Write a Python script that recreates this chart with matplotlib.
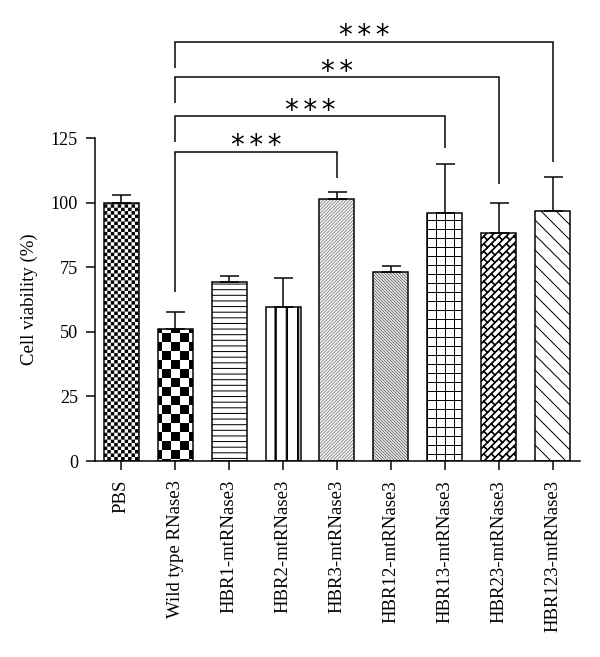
import warnings
warnings.filterwarnings('ignore')
import numpy as np
import matplotlib
matplotlib.use('Agg')
import matplotlib.pyplot as plt
import matplotlib.hatch as mhatch
from matplotlib.path import Path

# ---------------- data ----------------
categories = ['PBS', 'Wild type RNase3', 'HBR1-mtRNase3', 'HBR2-mtRNase3',
              'HBR3-mtRNase3', 'HBR12-mtRNase3', 'HBR13-mtRNase3',
              'HBR23-mtRNase3', 'HBR123-mtRNase3']
viability = [100.0, 51.0, 69.2, 59.8, 101.4, 73.3, 95.9, 88.3, 96.8]
viability_err = [3.0, 6.7, 2.4, 11.0, 2.7, 2.1, 19.0, 11.7, 13.3]
yticks = [0, 25, 50, 75, 100, 125]

# significance brackets
comp_from = [1, 1, 1, 1]
comp_to = [8, 7, 6, 4]
comp_label = ['***', '**', '***', '***']
comp_height = [162.4, 148.6, 133.5, 119.8]
comp_left_end = [152.1, 138.5, 123.7, 65.3]
comp_right_end = [115.9, 107.3, 121.1, 109.7]

# ---------------- styling ----------------
DPI = 90
PX = 1.0 / DPI
HATCH_LW_PT = 0.8
HLW = HATCH_LW_PT * DPI / 72.0 * PX

plt.rcParams['font.family'] = ['Liberation Serif', 'DejaVu Serif']
plt.rcParams['hatch.linewidth'] = HATCH_LW_PT

bar_hatches = ['c', 'C', 'h', 'v', 'n', 's', 'g', 'b', 'd']
hatch_colors = ['black', 'black', 'black', 'black', '#8c8c8c', '#6e6e6e',
                'black', 'black', 'black']


# ---------------- custom hatch patterns ----------------
def _seg(v, c, x0, y0, x1, y1):
    v += [(x0, y0), (x1, y1)]
    c += [Path.MOVETO, Path.LINETO]


def _thickseg(v, c, x0, y0, x1, y1, width_px):
    half = max(width_px * PX - HLW, 0.0) / 2
    dx, dy = x1 - x0, y1 - y0
    L = np.hypot(dx, dy)
    nx, ny = -dy / L * half, dx / L * half
    v += [(x0 + nx, y0 + ny), (x1 + nx, y1 + ny), (x1 - nx, y1 - ny),
          (x0 - nx, y0 - ny), (x0 + nx, y0 + ny)]
    c += [Path.MOVETO, Path.LINETO, Path.LINETO, Path.LINETO, Path.CLOSEPOLY]


def _rect(v, c, x0, y0, x1, y1):
    v += [(x0, y0), (x1, y0), (x1, y1), (x0, y1), (x0, y0)]
    c += [Path.MOVETO, Path.LINETO, Path.LINETO, Path.LINETO, Path.CLOSEPOLY]


def checker(n):
    def build():
        v, c = [], []
        s = 1.0 / n
        e = HLW / 2
        for i in range(n):
            for j in range(n):
                if (i + j) % 2 == 0:
                    _rect(v, c, i * s + e, j * s + e, (i + 1) * s - e, (j + 1) * s - e)
        return v, c
    return build


def hlines(n):
    def build():
        v, c = [], []
        for k in range(n):
            y = (k + 0.5) / n
            _seg(v, c, -0.05, y, 1.05, y)
        return v, c
    return build


def vbars(n, width_px):
    def build():
        v, c = [], []
        half = max(width_px * PX - HLW, 0.0) / 2
        for k in range(n):
            xx = (k + 0.5) / n
            _rect(v, c, xx - half, -0.05, xx + half, 1.05)
        return v, c
    return build


def grid(n):
    def build():
        v, c = [], []
        for k in range(n):
            t = (k + 0.5) / n
            _seg(v, c, -0.05, t, 1.05, t)
            _seg(v, c, t, -0.05, t, 1.05)
        return v, c
    return build


def diag(n, sign):
    def build():
        v, c = [], []
        if sign > 0:
            for k in range(-n - 1, n + 2):
                cc = k / n
                _seg(v, c, -0.1, -0.1 + cc, 1.1, 1.1 + cc)
        else:
            for k in range(-1, 2 * n + 2):
                cc = k / n
                _seg(v, c, -0.1, 0.1 + cc, 1.1, -1.1 + cc)
        return v, c
    return build


def brick(m, n, width_px):
    def build():
        v, c = [], []
        a = 1.0 / m
        b = 1.0 / n
        for k in range(-m - 1, m + 2):
            p = k * a
            _thickseg(v, c, -0.1, -0.1 + p, 1.1, 1.1 + p, width_px)
        for k in range(-m - 1, m + 1):
            pc = (k + 0.5) * a
            for j in range(-2, 2 * n + 3):
                q = j * b + (k % 2) * b / 2
                xm, ym = (q - pc) / 2, (q + pc) / 2
                if -0.15 < xm < 1.15 and -0.15 < ym < 1.15:
                    p0, p1 = k * a, (k + 1) * a
                    _thickseg(v, c, (q - p0) / 2, (q + p0) / 2,
                              (q - p1) / 2, (q + p1) / 2, width_px)
        return v, c
    return build


class CustomHatch(mhatch.HatchPatternBase):
    key = ''
    builder = None

    def __init__(self, hatch, density):
        if self.key and hatch and self.key in hatch:
            v, c = type(self).builder()
            self._v = np.asarray(v, float)
            self._c = np.asarray(c, dtype=Path.code_type)
            self.num_vertices = len(self._v)
        else:
            self.num_vertices = 0

    def set_vertices_and_codes(self, vertices, codes):
        vertices[:] = self._v
        codes[:] = self._c


def register(key, builder):
    cls = type('Hatch_' + key, (CustomHatch,), {'key': key, 'builder': staticmethod(builder)})
    mhatch._hatch_types.append(cls)


register('c', checker(26))
register('C', checker(10))
register('h', hlines(16))
register('v', vbars(8, 2.3))
register('n', diag(27, +1))
register('s', diag(30, -1))
register('g', grid(10))
register('b', brick(12, 6, 1.6))
register('d', diag(6, -1))

# ---------------- figure ----------------
W, H = 600, 657
fig = plt.figure(figsize=(W / DPI, H / DPI), dpi=DPI)
ax = fig.add_axes([95 / W, (H - 461) / H, 485 / W, (461 - 138.3) / H])

x = np.arange(len(categories))
bw = 0.65
fill_bars = ax.bar(x, viability, width=bw, color='white', edgecolor=hatch_colors,
                   linewidth=0, zorder=2)
for p, h in zip(fill_bars, bar_hatches):
    p.set_hatch(h)
ax.bar(x, viability, width=bw, fill=False, edgecolor='black', linewidth=1.2, zorder=3)
ax.errorbar(x, viability, yerr=[np.zeros(len(x)), viability_err], fmt='none',
            ecolor='black', elinewidth=1.2, capsize=7.6, capthick=1.2, zorder=4)

for f, t, lab, hgt, le, re in zip(comp_from, comp_to, comp_label, comp_height,
                                  comp_left_end, comp_right_end):
    ax.plot([f, f, t, t], [le, hgt, hgt, re], color='black', lw=1.2, clip_on=False,
            solid_joinstyle='miter', solid_capstyle='butt', zorder=5)
    ax.text((f + t) / 2, hgt - 1.0, '\u2006'.join(lab), ha='center', va='baseline',
            fontsize=22, family='DejaVu Sans', clip_on=False)

ax.set_xlim(-0.49, 8.51)
ax.set_ylim(0, 125)
for s in ['top', 'right']:
    ax.spines[s].set_visible(False)
for s in ['left', 'bottom']:
    ax.spines[s].set_linewidth(1.2)
ax.set_yticks(yticks)
ax.set_xticks(x)
ax.set_xticklabels(categories, rotation=90, ha='center', va='top')
ax.tick_params(axis='both', direction='out', length=7.2, width=1.2)
ax.tick_params(axis='y', labelsize=14.5, pad=6.4)
ax.tick_params(axis='x', labelsize=15, pad=8)
ax.set_ylabel('Cell viability (%)', fontsize=15)
ax.yaxis.set_label_coords(-0.118, 0.5)

fig.savefig('out.png', dpi=DPI)
